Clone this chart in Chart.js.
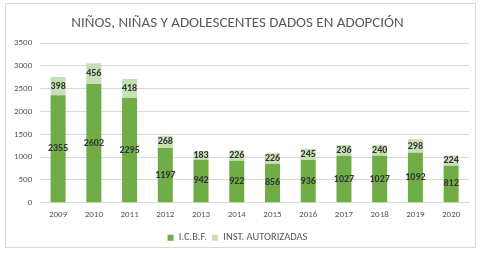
<!DOCTYPE html>
<html>
<head>
<meta charset="utf-8">
<script src="https://cdn.jsdelivr.net/npm/chart.js@4/dist/chart.umd.min.js"></script>
<style>
  html, body { margin: 0; padding: 0; background: #fff; }
  #caja { position: absolute; left: 5px; top: 3px; width: 469px; height: 243px; border: 1px solid #d9d9d9; }
</style>
</head>
<body>
<div id="caja"><canvas id="grafico"></canvas></div>
<script>
// Datos: niños, niñas y adolescentes dados en adopción
const anios = ['2009','2010','2011','2012','2013','2014','2015','2016','2017','2018','2019','2020'];
const icbf = [2355, 2602, 2295, 1197, 942, 922, 856, 936, 1027, 1027, 1092, 812];
const instAutorizadas = [398, 456, 418, 268, 183, 226, 226, 245, 236, 240, 298, 224];
const yTicks = [0, 500, 1000, 1500, 2000, 2500, 3000, 3500];

const fuente = 'Carlito, Lato, sans-serif';

// etiquetas centradas en cada segmento
const etiquetas = {
    id: 'etiquetas',
    afterDatasetsDraw(chart) {
        const ctx = chart.ctx;
        ctx.save();
        ctx.font = 'bold 10px ' + fuente;
        ctx.fillStyle = '#333333';
        ctx.textAlign = 'center';
        ctx.textBaseline = 'middle';
        chart.data.datasets.forEach((ds, i) => {
            chart.getDatasetMeta(i).data.forEach((bar, j) => {
                const y = (bar.y + bar.base) / 2;
                ctx.fillText(ds.data[j], bar.x, y);
            });
        });
        ctx.restore();
    }
};

const ctx = document.getElementById('grafico').getContext('2d');
new Chart(ctx, {
    type: 'bar',
    data: {
        labels: anios,
        datasets: [
            { label: 'I.C.B.F.', data: icbf, backgroundColor: '#70ad47' },
            { label: 'INST. AUTORIZADAS', data: instAutorizadas, backgroundColor: '#c5e0b4' }
        ]
    },
    options: {
        responsive: true,
        maintainAspectRatio: false,
        animation: false,
        layout: { padding: { left: 0, right: 6, top: 2, bottom: -6 } },
        datasets: { bar: { categoryPercentage: 1, barPercentage: 0.42 } },
        plugins: {
            title: {
                display: true,
                text: 'NIÑOS, NIÑAS Y ADOLESCENTES DADOS EN ADOPCIÓN',
                color: '#595959',
                font: { family: fuente, size: 15, weight: 'normal' },
                padding: { top: 8, bottom: 11 }
            },
            legend: {
                position: 'bottom',
                labels: {
                    color: '#595959',
                    font: { family: fuente, size: 10.5 },
                    boxWidth: 6, boxHeight: 6, padding: 5
                }
            },
            tooltip: { enabled: false }
        },
        scales: {
            x: {
                stacked: true,
                grid: { display: false, drawTicks: false },
                border: { color: '#d9d9d9' },
                ticks: { color: '#595959', font: { family: fuente, size: 9 }, padding: 7 }
            },
            y: {
                stacked: true,
                min: 0, max: 3500,
                afterBuildTicks: axis => { axis.ticks = yTicks.map(v => ({ value: v })); },
                grid: { color: '#d9d9d9', drawTicks: false },
                border: { display: false },
                ticks: { color: '#595959', font: { family: fuente, size: 9 }, padding: 8,
                         callback: v => String(v) }
            }
        }
    },
    plugins: [etiquetas]
});
</script>
</body>
</html>
